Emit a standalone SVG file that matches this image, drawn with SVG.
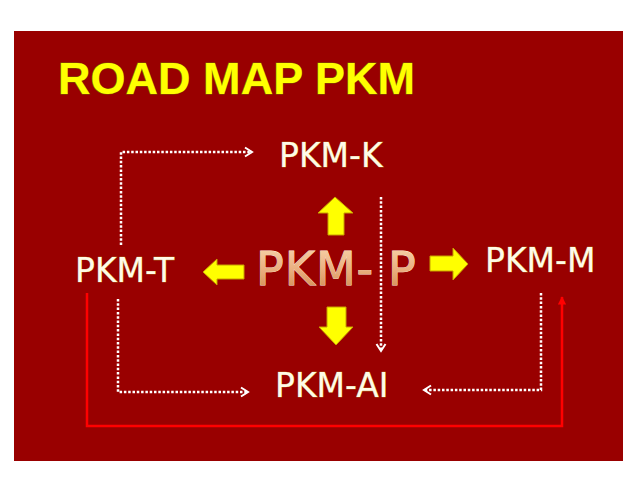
<svg xmlns="http://www.w3.org/2000/svg" width="638" height="493" viewBox="0 0 638 493">
<style>
.node text{font-family:"DejaVu Sans","Verdana",sans-serif;font-size:33px;fill:#fffbe8;stroke:#b89a30;stroke-width:0.7;paint-order:stroke}
.dot{fill:none;stroke:#ffffff;stroke-width:2.5;stroke-dasharray:2.5 1.8;marker-end:url(#chev)}
.red{fill:none;stroke:#ff0000;stroke-width:2.5;marker-end:url(#redtip)}
.ya{fill:#ffff00;stroke:#c8a000;stroke-width:1}
</style>
<defs>
<marker id="chev" markerUnits="userSpaceOnUse" viewBox="0 0 12 12" refX="10" refY="6" markerWidth="12" markerHeight="12" orient="auto">
<path d="M3,1.5 L10,6 L3,10.5" fill="none" stroke="#ffffff" stroke-width="2"/>
</marker>
<marker id="redtip" markerUnits="userSpaceOnUse" viewBox="0 0 10 12" refX="9" refY="5" markerWidth="12" markerHeight="10" orient="auto">
<path d="M0,0 L10,5 L0,10 Z" fill="#ff0000"/>
</marker>
<linearGradient id="peach" x1="0" y1="0" x2="0" y2="1">
<stop offset="0" stop-color="#f9d8b0"/>
<stop offset="0.5" stop-color="#eab080"/>
<stop offset="1" stop-color="#cf8548"/>
</linearGradient>
</defs>
<rect x="0" y="0" width="638" height="493" fill="#ffffff"/>
<rect x="14" y="31" width="609" height="430" fill="#990000"/>
<text x="58" y="94" font-family="'Liberation Sans',Arial,sans-serif" font-weight="bold" font-size="44" fill="#ffff00" stroke="#7a5a00" stroke-width="1" paint-order="stroke" textLength="357" lengthAdjust="spacingAndGlyphs">ROAD MAP PKM</text>
<g id="connectors">
<path class="dot" d="M121,245 V152 H252"/>
<path class="dot" d="M118,299 V392 H248"/>
<path class="dot" d="M541,293 V390 H424"/>
<path class="dot" d="M381,197 V351"/>
<path class="red" d="M87,293 V426 H562 V297"/>
<path class="ya" d="M335,197 L353,213 L344,213 L344,235 L328,235 L328,213 L318,213 Z"/>
<path class="ya" d="M336,345 L353,327 L346,327 L346,307 L327,307 L327,327 L319,327 Z"/>
<path class="ya" d="M203,272 L217,259 L217,265 L244,265 L244,279 L217,279 L217,285 Z"/>
<path class="ya" d="M468,264 L453,248 L453,256 L430,256 L430,271 L453,271 L453,280 Z"/>
</g>
<g id="pkm-k" class="node"><text x="279" y="167">PKM-K</text></g>
<g id="pkm-t" class="node"><text x="75" y="282">PKM-T</text></g>
<g id="pkm-m" class="node"><text x="485" y="272">PKM-M</text></g>
<g id="pkm-ai" class="node"><text x="275" y="397">PKM-AI</text></g>
<g id="pkm-p"><text y="285" font-family="'DejaVu Sans',Verdana,sans-serif" font-size="46" letter-spacing="1" fill="url(#peach)" stroke="#fff0dc" stroke-width="0.8" paint-order="stroke"><tspan x="256">PKM- </tspan><tspan x="388">P</tspan></text></g>
</svg>
